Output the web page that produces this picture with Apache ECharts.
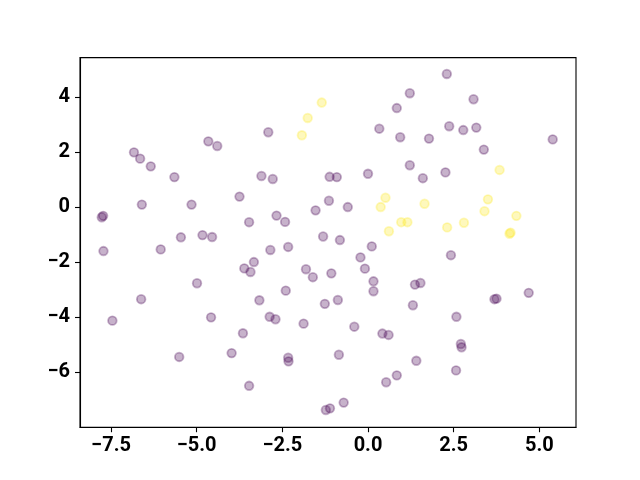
<!DOCTYPE html>
<html>
<head>
<meta charset="utf-8">
<script src="https://cdn.jsdelivr.net/npm/echarts@6/dist/echarts.min.js"></script>
<style>
  html, body { margin: 0; padding: 0; background: #fff; }
  #chart { width: 640px; height: 480px; }
</style>
</head>
<body>
<div id="chart"></div>
<script>
// class 0 (purple)
var xClass0 = [-6.83, -6.65, -6.34, -5.65, -4.66, -4.40, -3.75, -6.60, -5.15, -7.77, -7.73, -3.47,
  -5.46, -4.83, -4.55, -2.91, -3.11, -2.78, -1.12, -0.91, 0.00, 0.33, 0.84, 0.94, 1.22, 1.22,
  -2.67, -2.42, -1.53, -1.14, -0.59, -1.31, -0.82, -2.33, 0.11, 2.30, 3.08, 2.37, 2.78, 3.16,
  1.78, 5.39, 3.38, 1.60, 2.26, -7.72, -6.05, -3.61, -3.43, -4.99, -6.62, -7.46, -4.58, -3.65,
  -3.98, -5.51, -3.47, -2.85, -3.33, -1.81, -1.61, -1.07, -0.22, -0.09, 0.16, 0.16, -2.40, -3.17,
  -1.26, -0.88, -2.87, -2.70, -1.88, -0.40, 0.42, 0.60, -2.33, -2.32, -0.85, 0.53, 0.84, -0.71,
  -1.23, -1.11, 2.42, 1.37, 1.53, 1.31, 2.58, 3.69, 3.75, 4.69, 2.71, 2.73, 1.41, 2.57];
var yClass0 = [1.98, 1.75, 1.47, 1.08, 2.38, 2.21, 0.37, 0.08, 0.08, -0.38, -0.33, -0.56,
  -1.11, -1.03, -1.10, 2.71, 1.12, 1.01, 1.09, 1.08, 1.20, 2.84, 3.59, 2.53, 4.13, 1.51,
  -0.32, -0.55, -0.13, 0.22, -0.01, -1.08, -1.21, -1.46, -1.44, 4.83, 3.91, 2.93, 2.79, 2.88,
  2.48, 2.45, 2.08, 1.04, 1.25, -1.61, -1.55, -2.24, -2.37, -2.78, -3.36, -4.14, -4.02, -4.60,
  -5.32, -5.46, -6.51, -1.57, -2.01, -2.27, -2.56, -2.42, -1.84, -2.25, -2.71, -3.07, -3.05, -3.40,
  -3.53, -3.39, -4.00, -4.09, -4.25, -4.36, -4.61, -4.66, -5.49, -5.62, -5.38, -6.38, -6.13, -7.12,
  -7.39, -7.33, -1.76, -2.83, -2.77, -3.58, -4.00, -3.36, -3.34, -3.13, -4.99, -5.11, -5.60, -5.95];

// class 1 (yellow)
var xClass1 = [-1.35, -1.76, -1.93, 0.51, 0.37, 0.61, 0.97, 1.15, 1.65, 2.31, 2.80, 3.84,
  3.50, 3.40, 4.33, 4.16, 4.13];
var yClass1 = [3.79, 3.23, 2.60, 0.33, -0.01, -0.89, -0.56, -0.56, 0.11, -0.75, -0.58, 1.34,
  0.27, -0.16, -0.33, -0.94, -0.98];

var xTicks = [-7.5, -5.0, -2.5, 0.0, 2.5, 5.0];
var yTicks = [-6, -4, -2, 0, 2, 4];

function pairs(xs, ys) {
  var out = [];
  for (var i = 0; i < xs.length; i++) out.push([xs[i], ys[i]]);
  return out;
}
function minus(s) { return String(s).replace('-', '\u2212'); }

var tickFont = { fontFamily: 'Roboto', fontWeight: 'bold', fontSize: 20, color: '#000' };

var chart = echarts.init(document.getElementById('chart'), null, { renderer: 'canvas' });
chart.setOption({
  animation: false,
  grid: { left: 80, right: 64, top: 57.6, bottom: 52.8, show: true, borderColor: '#000', borderWidth: 1.1 },
  xAxis: {
    type: 'value', min: -8.405, max: 6.07,
    splitLine: { show: false },
    axisLine: { show: true, onZero: false, lineStyle: { color: '#000', width: 1.1 } },
    axisTick: { show: true, customValues: xTicks, length: 5, lineStyle: { color: '#000', width: 1.1 } },
    axisLabel: Object.assign({ customValues: xTicks, margin: 9, formatter: function (v) { return minus(v.toFixed(1)); } }, tickFont)
  },
  yAxis: {
    type: 'value', min: -8.015, max: 5.425,
    splitLine: { show: false },
    axisLine: { show: true, onZero: false, lineStyle: { color: '#000', width: 1.1 } },
    axisTick: { show: true, customValues: yTicks, length: 5, lineStyle: { color: '#000', width: 1.1 } },
    axisLabel: Object.assign({ customValues: yTicks, margin: 10, formatter: function (v) { return minus(Math.round(v)); } }, tickFont)
  },
  series: [
    {
      type: 'scatter', symbolSize: 8.6, data: pairs(xClass0, yClass0),
      itemStyle: { color: 'rgba(68,1,84,0.3)', borderColor: 'rgba(68,1,84,0.3)', borderWidth: 1.8, opacity: 1 }
    },
    {
      type: 'scatter', symbolSize: 8.6, data: pairs(xClass1, yClass1),
      itemStyle: { color: 'rgba(253,231,37,0.3)', borderColor: 'rgba(253,231,37,0.3)', borderWidth: 1.8, opacity: 1 }
    }
  ]
});
</script>
</body>
</html>
